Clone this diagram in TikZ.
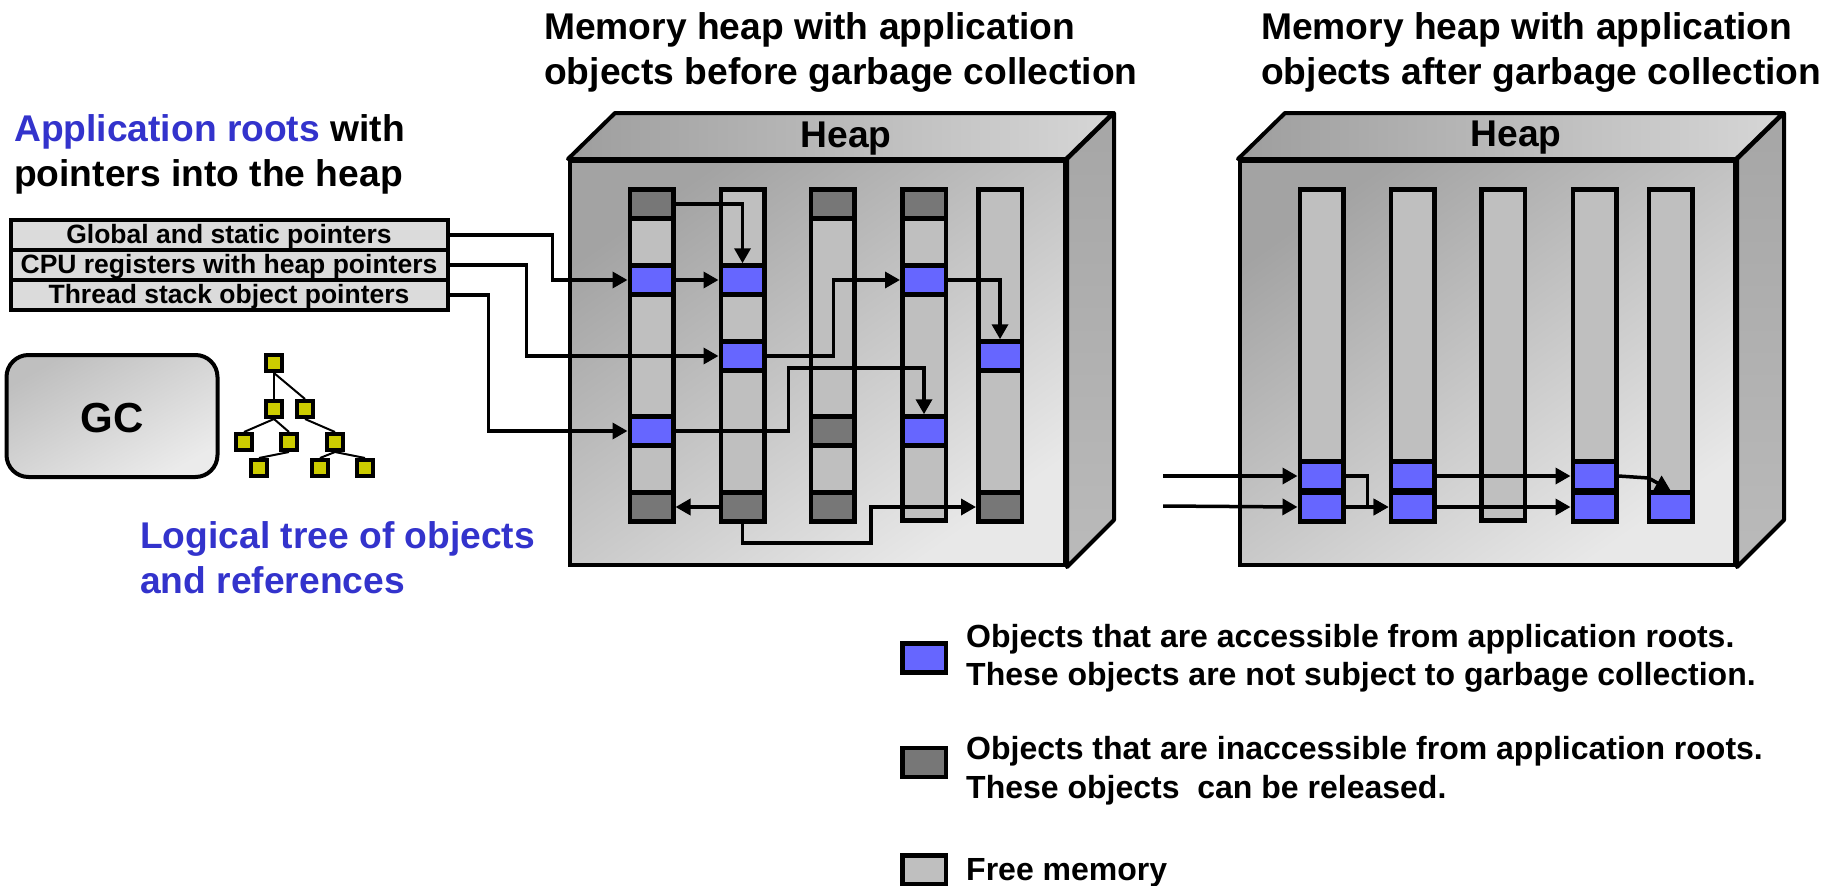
\documentclass[tikz,border=0pt]{standalone}
\usepackage{fontspec}
\setmainfont{Liberation Sans}
\usetikzlibrary{arrows.meta}
\definecolor{livecol}{HTML}{6666FF}
\definecolor{deadcol}{HTML}{777777}
\definecolor{freecol}{HTML}{BFBFBF}
\definecolor{treecol}{HTML}{CCCC00}
\definecolor{headcol}{HTML}{3333CC}
\tikzstyle{wire} = [draw, line width=3.5pt, -{Triangle[length=15pt,width=16pt]}]
\tikzstyle{tree edge} = [draw, line width=2pt, -]
\tikzstyle{column}=[draw, line width=4.5pt, fill=freecol, minimum width=43.5pt, minimum height=331pt, inner sep=0pt]
\tikzstyle{live}=[draw, line width=4.5pt, fill=livecol, minimum width=43.5pt, minimum height=29pt, inner sep=0pt]
\tikzstyle{dead}=[draw, line width=4.5pt, fill=deadcol, minimum width=43.5pt, minimum height=29pt, inner sep=0pt]
\tikzstyle{free}=[draw, line width=4.5pt, fill=freecol, minimum width=43.5pt, minimum height=29pt, inner sep=0pt]
\tikzstyle{treenode}=[draw, line width=4pt, fill=treecol, minimum size=16pt, inner sep=0pt]
\tikzstyle{rootbox}=[draw, line width=4pt, fill=black!14, minimum width=437pt, minimum height=30pt, inner sep=0pt, text height=22pt, text depth=5pt, font=\fontsize{26.5}{30}\selectfont\bfseries]
\tikzstyle{front}=[draw, line width=4pt, top color=black!36, bottom color=black!9, shading angle=35, minimum width=495pt, minimum height=404pt, inner sep=0pt]
\tikzstyle{lid}=[draw, line width=4pt, line join=round, left color=black!38, right color=black!16]
\tikzstyle{side}=[draw, line width=4pt, line join=round, top color=black!35, bottom color=black!27]
\tikzstyle{title}=[anchor=west, align=left, inner sep=0pt, font=\fontsize{37.2}{45}\selectfont\bfseries]
\tikzstyle{legend}=[anchor=west, align=left, inner sep=0pt, font=\fontsize{32}{38.5}\selectfont\bfseries]
\begin{document}
\begin{tikzpicture}[x=1pt,y=-1pt]
       \useasboundingbox (0,0) rectangle (1834,886);
       \node[title] (titlea) at (544,52.5) {Memory heap with application\\objects before garbage collection};
       \node[title] (titleb) at (1261,52.5) {Memory heap with application\\objects after garbage collection};
       \node[title] (roots) at (14,154) {\textcolor{headcol}{Application roots} with\\pointers into the heap};
       \node[title] (logical) at (140,558) {\textcolor{headcol}{Logical tree of objects}\\\textcolor{headcol}{and references}};
       \foreach \pos/\name/\txt in {{(229,235)/roota/Global and static pointers}, {(229,265)/rootb/CPU registers with heap pointers}, {(229,295)/rootc/Thread stack object pointers}} {
           \node[rootbox] (\name) at \pos {\txt};
       }
       \node[draw, line width=4pt, rounded corners=22pt, top color=black!25, bottom color=black!8, shading angle=30, minimum width=211pt, minimum height=122pt, text height=33pt, text depth=0pt, font=\fontsize{42}{46}\selectfont\bfseries] (gc) at (112,416) {GC};
       \foreach \pos/\name in {{(274,363)/ta}, {(274,409)/tb}, {(305,409)/tc}, {(244,442)/td}, {(289,442)/te}, {(335,442)/tf}, {(259,468)/tg}, {(320,468)/th}, {(365,468)/ti}} {
           \node[treenode] (\name) at \pos {};
       }
       \foreach \source/\sink in {ta/tb, ta/tc, tb/td, tb/te, tc/tf, te/tg, tf/th, tf/ti} {
           \path[tree edge] (\source.south) -- (\sink.north);
       }
       \node[front] (heapa) at (817.5,363) {};
       \draw[lid] (heapa.north west) -- ++(47,-46) -- ++(498,0) -- ++(-47,46) -- cycle;
       \draw[side] (heapa.north east) -- ++(47,-46) -- ++(0,407) -- ++(-47,47) -- cycle;
       \node[font=\fontsize{37.2}{45}\selectfont\bfseries] (labela) at (846,139) {Heap};
       \node[front] (heapb) at (1487.5,363) {};
       \draw[lid] (heapb.north west) -- ++(47,-46) -- ++(498,0) -- ++(-47,46) -- cycle;
       \draw[side] (heapb.north east) -- ++(47,-46) -- ++(0,407) -- ++(-47,47) -- cycle;
       \node[font=\fontsize{37.2}{45}\selectfont\bfseries] (labelb) at (1516,138) {Heap};
       \foreach \pos/\name in {{(651.5,355)/cola}, {(742.5,355)/colb}, {(832.5,355)/colc}, {(924,355)/cold}, {(1000,355)/cole}, {(1321.5,355)/colp}, {(1412.5,355)/colq}, {(1503,355)/colr}, {(1594.5,355)/cols}, {(1670.5,355)/colt}} {
           \node[column] (\name) at \pos {};
       }
       \foreach \pos/\name/\kind in {{(651.5,204)/aa/dead}, {(651.5,280)/ab/live}, {(651.5,431)/ad/live}, {(651.5,507)/ae/dead}, {(742.5,280)/bb/live}, {(742.5,356)/bc/live}, {(742.5,507)/be/dead}, {(832.5,204)/ca/dead}, {(832.5,431)/cd/dead}, {(832.5,507)/ce/dead}, {(924,204)/da/dead}, {(924,280)/db/live}, {(924,431)/dd/live}, {(1000,356)/ec/live}, {(1000,507)/ee/dead}, {(1321.5,476)/pa/live}, {(1321.5,507)/pb/live}, {(1412.5,476)/qa/live}, {(1412.5,507)/qb/live}, {(1594.5,476)/sa/live}, {(1594.5,507)/sb/live}, {(1670.5,507)/tb/live}} {
           \node[\kind] (\name) at \pos {};
       }
       \path[wire] (aa.east) -| (bb.north);
       \path[wire] (ab.east) -- (bb.west);
       \path[wire] (roota.east) -- ++(103,0) |- (ab.west);
       \path[wire] (rootb.east) -- ++(77,0) |- (bc.west);
       \path[wire] (rootc.east) -- ++(39,0) |- (ad.west);
       \path[wire] (bc.east) -- ++(67,0) |- (db.west);
       \path[wire] (ad.east) -| ++(113,-63) -| (dd.north);
       \path[wire] (db.east) -| (ec.north);
       \path[wire] (be.west) -- (ae.east);
       \path[wire] (be.south) |- ++(128.5,19) |- (ee.west);
       \coordinate (ina) at (1163,476);
       \coordinate (inb) at (1163,506);
       \path[wire] (ina) -- (pa.west);
       \path[wire] (inb) -- (pb.west);
       \path[wire] (pa.east) -- ++(22,0) |- (qb.west);
       \path[wire] (pb.east) -- (qb.west);
       \path[wire] (qa.east) -- (sa.west);
       \path[wire] (qb.east) -- (sb.west);
       \path[wire] (sa.east) -- ++(30,2) -- (tb.north);
       \foreach \pos/\name/\kind in {{(924,658)/keya/live}, {(924,762.5)/keyb/dead}, {(924,870)/keyc/free}} {
           \node[\kind] (\name) at \pos {};
       }
       \node[legend] (texta) at (966,658.5) {Objects that are accessible from application roots.\\These objects are not subject to garbage collection.};
       \node[legend] (textb) at (966,770.5) {Objects that are inaccessible from application roots.\\These objects\ \ can be released.};
       \node[legend] (textc) at (966,873) {Free memory};
\end{tikzpicture}
\end{document}
